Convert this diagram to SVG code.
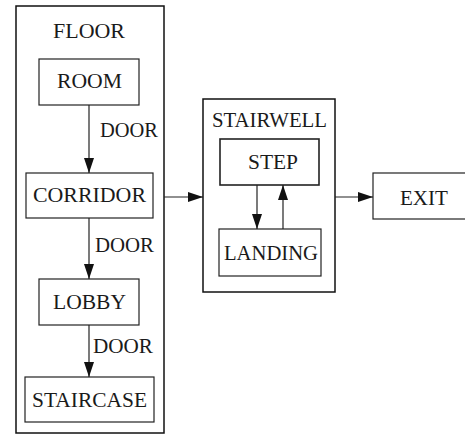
<svg xmlns="http://www.w3.org/2000/svg" width="465" height="435" viewBox="0 0 465 435">
<style>
.box{fill:#fff;stroke:#222;stroke-width:1.2}
.outer{fill:none;stroke:#111;stroke-width:1.5}
text{font-family:'Liberation Serif','Times New Roman','DejaVu Serif',serif;font-size:20px;fill:#1a1a1a}
.t{text-anchor:middle}
.c{stroke:#222;stroke-width:1.2;fill:none}
</style>
<defs>
<marker id="ah" viewBox="0 0 15 10" refX="15" refY="5" markerWidth="15" markerHeight="10" markerUnits="userSpaceOnUse" orient="auto">
<path d="M0,0 L15,5 L0,10 Z" fill="#111"/>
</marker>
</defs>
<g id="floor">
<rect class="outer" x="16" y="6" width="148" height="427"/>
<text class="t" x="89" y="38" font-family="Liberation Serif, serif" textLength="72" lengthAdjust="spacingAndGlyphs">FLOOR</text>
</g>
<g id="room">
<rect class="box" x="39" y="59" width="100" height="46"/>
<text class="t" x="89.5" y="88" font-family="Liberation Serif, serif" textLength="65" lengthAdjust="spacingAndGlyphs">ROOM</text>
</g>
<g id="corridor">
<rect class="box" x="26" y="173" width="127" height="45"/>
<text class="t" x="89.5" y="202" textLength="113" lengthAdjust="spacingAndGlyphs">CORRIDOR</text>
</g>
<g id="lobby">
<rect class="box" x="39" y="279" width="100" height="46"/>
<text class="t" x="89.5" y="309" textLength="73" lengthAdjust="spacingAndGlyphs">LOBBY</text>
</g>
<g id="staircase">
<rect class="box" x="25" y="377" width="129" height="45"/>
<text class="t" x="89.5" y="407" textLength="115" lengthAdjust="spacingAndGlyphs">STAIRCASE</text>
</g>
<g id="stairwell">
<rect class="outer" x="203" y="99" width="132" height="193"/>
<text class="t" x="269.5" y="127" textLength="115" lengthAdjust="spacingAndGlyphs">STAIRWELL</text>
</g>
<g id="step">
<rect class="box" x="220" y="139" width="99" height="46" style="stroke-width:1.6"/>
<text class="t" x="273" y="169" textLength="50" lengthAdjust="spacingAndGlyphs">STEP</text>
</g>
<g id="landing">
<rect class="box" x="219" y="229" width="102" height="47"/>
<text class="t" x="271" y="260" textLength="94" lengthAdjust="spacingAndGlyphs">LANDING</text>
</g>
<g id="exit">
<rect class="box" x="373" y="173" width="100" height="46"/>
<text class="t" x="424" y="205" textLength="48" lengthAdjust="spacingAndGlyphs">EXIT</text>
</g>
<g id="connectors">
<line class="c" x1="89" y1="105" x2="89" y2="173" marker-end="url(#ah)"/>
<text x="100" y="137" textLength="58" lengthAdjust="spacingAndGlyphs">DOOR</text>
<line class="c" x1="89" y1="218" x2="89" y2="279" marker-end="url(#ah)"/>
<text x="95" y="252" textLength="59" lengthAdjust="spacingAndGlyphs">DOOR</text>
<line class="c" x1="89" y1="325" x2="89" y2="377" marker-end="url(#ah)"/>
<text x="93" y="353" textLength="60" lengthAdjust="spacingAndGlyphs">DOOR</text>
<line class="c" x1="164" y1="197" x2="203" y2="197" marker-end="url(#ah)"/>
<line class="c" x1="257" y1="185" x2="257" y2="229" marker-end="url(#ah)"/>
<line class="c" x1="283" y1="229" x2="283" y2="185" marker-end="url(#ah)"/>
<line class="c" x1="335" y1="197" x2="373" y2="197" marker-end="url(#ah)"/>
</g>
</svg>
